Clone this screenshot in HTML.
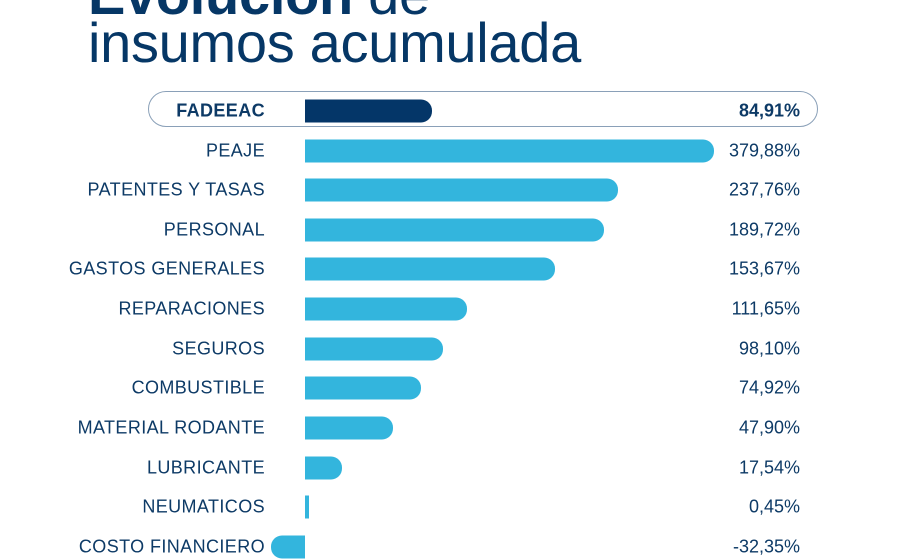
<!DOCTYPE html>
<html><head><meta charset="utf-8"><style>
body{margin:0;width:906px;height:556px;overflow:hidden;background:#fff;position:relative;font-family:"Liberation Sans",sans-serif;color:#0d3a66}
.t{position:absolute;left:88px;font-size:56px;line-height:1;white-space:nowrap;color:#063766;letter-spacing:-0.3px}
.lab{position:absolute;right:641px;font-size:18px;white-space:nowrap;transform:translateY(-50%);letter-spacing:0.4px}
.val{position:absolute;right:106px;font-size:18px;white-space:nowrap;transform:translateY(-50%)}
.bar{position:absolute;height:23px;background:#33b5dd;transform:translateY(-50%);border-radius:0 11px 11px 0}
</style></head><body>
<div class="t" style="top:-33px"><b>Evolución</b> de</div>
<div class="t" style="top:15px">insumos acumulada</div>
<div style="position:absolute;left:148px;top:91px;width:668px;height:34px;border:1.5px solid #8aa0b8;border-radius:18px"></div>
<div class="lab" style="top:111px;font-weight:bold">FADEEAC</div>
<div class="bar" style="top:111px;left:305px;width:127px;background:#043668"></div>
<div class="val" style="top:111px;font-weight:bold">84,91%</div>

<div class="lab" style="top:151px">PEAJE</div><div class="bar" style="top:151px;left:305px;width:409px"></div><div class="val" style="top:151px">379,88%</div>
<div class="lab" style="top:190px">PATENTES Y TASAS</div><div class="bar" style="top:190px;left:305px;width:313px"></div><div class="val" style="top:190px">237,76%</div>
<div class="lab" style="top:230px">PERSONAL</div><div class="bar" style="top:230px;left:305px;width:299px"></div><div class="val" style="top:230px">189,72%</div>
<div class="lab" style="top:269px">GASTOS GENERALES</div><div class="bar" style="top:269px;left:305px;width:250px"></div><div class="val" style="top:269px">153,67%</div>
<div class="lab" style="top:309px">REPARACIONES</div><div class="bar" style="top:309px;left:305px;width:162px"></div><div class="val" style="top:309px">111,65%</div>
<div class="lab" style="top:349px">SEGUROS</div><div class="bar" style="top:349px;left:305px;width:138px"></div><div class="val" style="top:349px">98,10%</div>
<div class="lab" style="top:388px">COMBUSTIBLE</div><div class="bar" style="top:388px;left:305px;width:116px"></div><div class="val" style="top:388px">74,92%</div>
<div class="lab" style="top:428px">MATERIAL RODANTE</div><div class="bar" style="top:428px;left:305px;width:88px"></div><div class="val" style="top:428px">47,90%</div>
<div class="lab" style="top:468px">LUBRICANTE</div><div class="bar" style="top:468px;left:305px;width:37px"></div><div class="val" style="top:468px">17,54%</div>
<div class="lab" style="top:507px">NEUMATICOS</div><div class="bar" style="top:507px;left:305px;width:4px;border-radius:0"></div><div class="val" style="top:507px">0,45%</div>
<div class="lab" style="top:547px">COSTO FINANCIERO</div><div class="bar" style="top:547px;left:271px;width:34px;border-radius:11px 0 0 11px"></div><div class="val" style="top:547px">-32,35%</div>
</body></html>
